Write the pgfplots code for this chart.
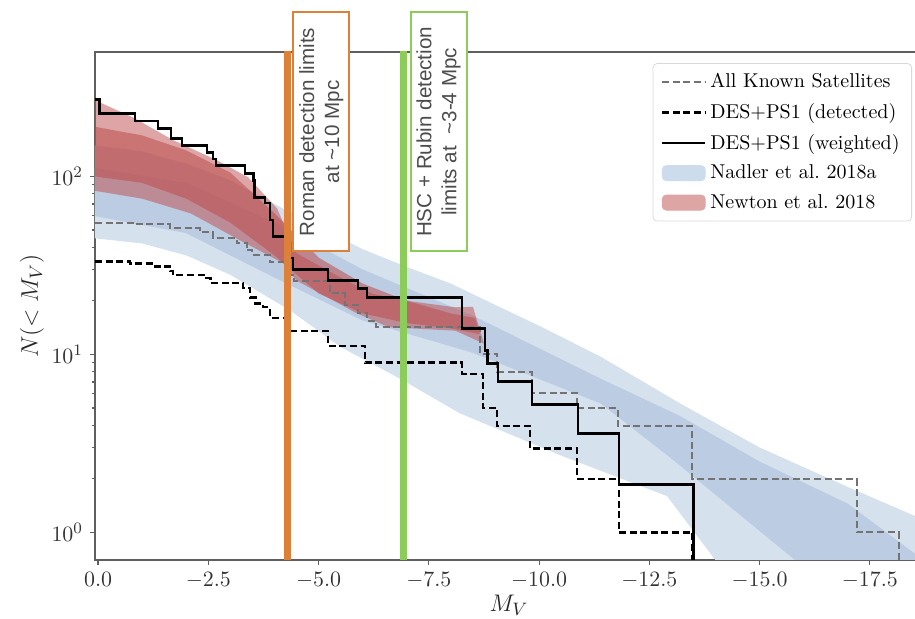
\documentclass[border=0pt]{standalone}
\usepackage{pgfplots}
\pgfplotsset{compat=1.18}
\usepackage{fontspec}
\newfontfamily\arialf{Liberation Sans}
\definecolor{bluelight}{RGB}{214,225,238}
\definecolor{bluedark}{RGB}{188,204,226}
\definecolor{redband}{RGB}{188,76,76}
\definecolor{bluelegend}{RGB}{205,220,236}
\definecolor{redlegend}{RGB}{222,165,165}
\definecolor{romanor}{RGB}{221,128,58}
\definecolor{rubingr}{RGB}{140,204,88}
\definecolor{axgray}{RGB}{95,95,95}
\definecolor{satgray}{RGB}{115,115,115}
\begin{document}
\begin{tikzpicture}
\useasboundingbox (-47.5pt,-29.5pt) rectangle (410pt,280pt);
\begin{axis}[
  scale only axis, width=413.9pt, height=254pt,
  xmin=-18.7, xmax=0.07, x dir=reverse,
  ymode=log, ymin=0.7, ymax=500,
  xtick={0,-2.5,-5,-7.5,-10,-12.5,-15,-17.5},
  xticklabel style={/pgf/number format/.cd,fixed,fixed zerofill,precision=1},
  ytick={1,10,100},
  tick pos=left, tick align=outside,
  major tick length=2.5pt, minor tick length=1.5pt,
  axis line style={axgray, line width=0.7pt},
  every tick/.style={axgray, line width=0.6pt},
  tick label style={font=\fontsize{11}{13}\selectfont, text=black!80},
  label style={font=\fontsize{13}{15}\selectfont, text=black!85},
  xlabel={$M_V$}, ylabel={$N(<M_V)$},
  xlabel style={at={(axis description cs:0.5,-0.0886)}, anchor=center},
  ylabel style={at={(axis description cs:-0.0761,0.5)}, anchor=center},
  legend style={at={(0.987,0.978)}, anchor=north east, draw=black!15,
    rounded corners=2pt, fill=white, font=\fontsize{10}{12}\selectfont,
    row sep=2.3pt, inner xsep=4pt, inner ysep=3pt, cells={anchor=west}},
  legend image code/.code={\draw[#1] (0pt,0pt) -- (21.5pt,0pt);},
]
% Nadler et al. 2018a, outer band
\addplot[fill=bluelight, draw=none, forget plot] coordinates {
 (0.1,150) (-1,138) (-2,118) (-3,95) (-4,70) (-5,52) (-6,39) (-7,31) (-8,25)
 (-9,19) (-10,14.5) (-11.4,9.7) (-13.2,5.3) (-15,3.0) (-17,1.8) (-19,1.1)
 (-19,0.5) (-14.3,0.5) (-14.2,0.6) (-12.9,1.6) (-10.5,2.7) (-8.2,4.67)
 (-6.85,7.3) (-5.5,11) (-4.35,17.7) (-3,28) (-2,36) (-1,42) (0.1,45)} -- cycle;
% Nadler et al. 2018a, inner band
\addplot[fill=bluedark, draw=none, forget plot] coordinates {
 (0.1,112) (-2,92) (-4,55) (-6,30) (-8.5,16.5) (-11.4,7.3) (-13.2,4.5)
 (-15,2.5) (-17,1.45) (-19,0.62) (-19,0.5) (-16.5,0.5) (-15.8,0.7)
 (-13.0,2.6) (-11.4,5.3) (-8.5,10.2) (-6,15.5) (-4,27) (-2,48) (0.1,60)} -- cycle;
% Newton et al. 2018, outer band
\addplot[fill=redband, fill opacity=0.5, draw=none, forget plot] coordinates {
 (0.07,268) (-0.8,214) (-1.7,160) (-2.7,123) (-3.4,99) (-4.06,66) (-4.5,37)
 (-5.5,27) (-6.2,22) (-7,20) (-8.1,18.4) (-8.5,18.5) (-8.75,11.5)
 (-8.1,13.6) (-6.6,14.2) (-5.87,17) (-4.5,26) (-4.2,32.5) (-3.2,44)
 (-2.1,62) (-1,75) (0.07,83)} -- cycle;
% Newton et al. 2018, inner band
\addplot[fill=redband, fill opacity=0.55, draw=none, forget plot] coordinates {
 (0.07,190) (-1,170) (-2,140) (-3,105) (-4,62) (-5,35) (-6,25) (-7,20)
 (-8,17) (-8.55,16) (-8.65,13) (-8,14) (-7,15) (-6,17) (-5,22) (-4,36)
 (-3,55) (-2,75) (-1,92) (0.07,100)} -- cycle;
% All known satellites
\addplot[const plot, satgray, line width=1pt, dash pattern=on 3.5pt off 1.8pt, forget plot] coordinates {
 (0.07,55) (-0.8,53.7) (-1.63,51) (-2.3,48.5) (-2.6,44.8) (-3.15,42)
 (-3.37,38.4) (-3.5,36) (-3.9,32.9) (-4.3,28) (-4.45,26) (-5.25,22)
 (-5.6,19) (-5.9,17) (-6.1,15.5) (-6.3,14.2) (-8.66,10.1) (-9.05,8.0)
 (-9.84,6.04) (-10.86,4.98) (-11.79,3.95) (-13.47,2.0) (-17.2,1.0) (-18.16,0.5)};
% DES+PS1 detected
\addplot[const plot, black, line width=1.1pt, dash pattern=on 3.5pt off 1.8pt, forget plot] coordinates {
 (0.07,33.3) (-0.73,32.4) (-1.3,31.2) (-1.63,29.3) (-1.7,27.8) (-2.43,26.8)
 (-2.55,25.1) (-3.29,23.5) (-3.45,20.9) (-3.57,19.3) (-3.74,18.4) (-3.9,16.1)
 (-4.35,13.5) (-5.22,11.2) (-6.05,9.0) (-8.25,7.8) (-8.73,5.0) (-9.05,3.95)
 (-9.8,2.96) (-10.86,2.0) (-11.81,1.0) (-13.47,0.5)};
% DES+PS1 weighted
\addplot[const plot, black, line width=1.2pt, forget plot] coordinates {
 (0.07,270) (-0.03,226) (-0.84,204) (-1.36,186) (-1.65,163) (-1.9,149)
 (-2.47,136) (-2.6,125) (-2.68,115) (-3.33,104) (-3.52,95) (-3.55,76)
 (-3.79,71) (-3.9,57) (-3.97,46) (-4.3,34.7) (-4.42,30) (-5.22,26)
 (-5.9,23.5) (-6.1,20.9) (-8.25,14) (-8.78,10.5) (-8.83,8.9) (-9.07,7.05)
 (-9.84,5.24) (-10.88,3.6) (-11.81,1.86) (-13.5,0.5)};
% detection limits
\addplot[romanor, line width=3.5pt, forget plot] coordinates {(-4.29,0.5) (-4.29,600)};
\addplot[rubingr, line width=3.5pt, forget plot] coordinates {(-6.93,0.5) (-6.93,600)};
\coordinate (rb) at (axis cs:-5.06,178);
\coordinate (gb) at (axis cs:-7.72,178);
% legend
\addlegendimage{satgray, line width=1pt, dash pattern=on 3.5pt off 1.8pt}
\addlegendentry{All Known Satellites}
\addlegendimage{black, line width=1.1pt, dash pattern=on 3.5pt off 1.8pt}
\addlegendentry{DES+PS1 (detected)}
\addlegendimage{black, line width=1.2pt}
\addlegendentry{DES+PS1 (weighted)}
\addlegendimage{legend image code/.code={\fill[bluelegend] (0pt,-3.75pt) rectangle (21.5pt,3.75pt);}}
\addlegendentry{Nadler et al.\ 2018a}
\addlegendimage{legend image code/.code={\fill[redlegend] (0pt,-3.75pt) rectangle (21.5pt,3.75pt);}}
\addlegendentry{Newton et al.\ 2018}
\end{axis}
\node[draw=romanor, line width=1pt, fill=white, rotate=90, minimum width=119.5pt,
  minimum height=28pt, align=center, inner sep=0pt, text=black!70,
  font=\arialf\fontsize{10.3}{12.5}\selectfont] at (rb)
  {Roman detection limits\\at \textasciitilde10 Mpc};
\node[draw=rubingr, line width=1pt, fill=white, rotate=90, minimum width=119.5pt,
  minimum height=28pt, align=center, inner sep=0pt, text=black!70,
  font=\arialf\fontsize{10.3}{12.5}\selectfont] at (gb)
  {HSC + Rubin detection\\limits at \ \textasciitilde3-4 Mpc};
\end{tikzpicture}
\end{document}
